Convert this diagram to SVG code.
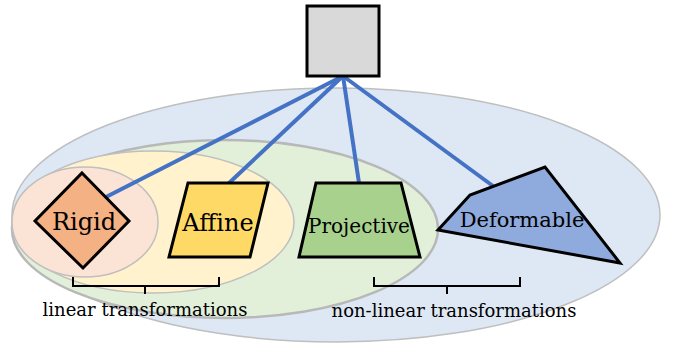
<svg xmlns="http://www.w3.org/2000/svg" width="678" height="346" viewBox="0 0 678 346">
<style>
.ell{stroke:#bfbfbf;stroke-width:1.5}
.shape{stroke:#000;stroke-width:3;stroke-linejoin:miter}
.conn{stroke:#4472c4;stroke-width:4;fill:none;stroke-linecap:butt}
.brace{stroke:#000;stroke-width:2;fill:none}
text{font-family:'DejaVu Serif',serif;fill:#000;text-anchor:middle}
.big{font-size:24px}
.mid{font-size:20px}
.sm{font-size:18px}
</style>
<rect width="678" height="346" fill="#fff"/>
<g id="regions">
<ellipse class="ell" cx="336" cy="215" rx="324" ry="127" fill="#dee8f4"/>
<ellipse class="ell" cx="225" cy="229" rx="213" ry="89" fill="#e2efd9" style="stroke-width:2.5;stroke:#b8b8b8"/>
<ellipse class="ell" cx="153" cy="222" rx="141" ry="71" fill="#fff2cc"/>
<ellipse class="ell" cx="85" cy="222" rx="73" ry="55" fill="#fbe4d5"/>
</g>
<g id="connectors">
<line class="conn" x1="343" y1="76" x2="106" y2="197"/>
<line class="conn" x1="343" y1="76" x2="228" y2="184"/>
<line class="conn" x1="343" y1="76" x2="359" y2="183"/>
<line class="conn" x1="343" y1="76" x2="493" y2="186"/>
</g>
<g id="root">
<rect class="shape" x="307" y="6" width="72" height="70" fill="#d9d9d9"/>
</g>
<g id="rigid">
<polygon class="shape" points="82,173 129,221 83,268 35,221" fill="#f4b183"/>
<text class="big" x="84" y="230">Rigid</text>
</g>
<g id="affine">
<polygon class="shape" points="188,183 268,183 250,257 169,257" fill="#ffd966"/>
<text class="big" x="218" y="231">Affine</text>
</g>
<g id="projective">
<polygon class="shape" points="316,183 401,183 420,257 299,257" fill="#a9d18e"/>
<text class="mid" x="359" y="233">Projective</text>
</g>
<g id="deformable">
<polygon class="shape" points="438,230 470,195 545,167 620,263" fill="#8faadc"/>
<text class="mid" x="522" y="227" style="font-size:21px">Deformable</text>
</g>
<g id="linear">
<path class="brace" d="M73,277 V286 H219 V277 M145,286 V294"/>
<text class="sm" x="145" y="316">linear transformations</text>
</g>
<g id="nonlinear">
<path class="brace" d="M374,277 V286 H520 V277 M447,286 V294"/>
<text class="sm" x="454" y="317">non-linear transformations</text>
</g>
</svg>
